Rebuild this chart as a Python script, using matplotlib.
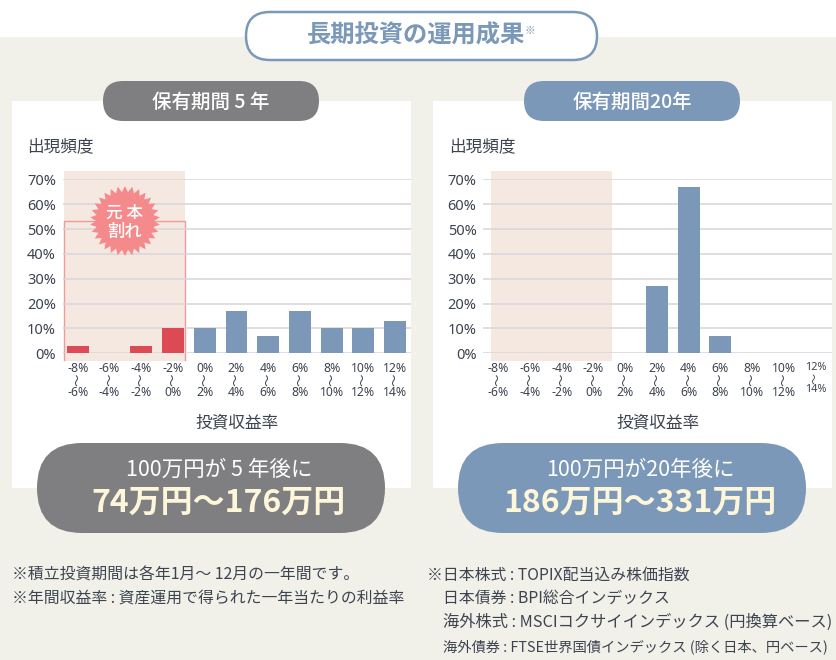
import numpy as np
import matplotlib
matplotlib.use("Agg")
import matplotlib.pyplot as plt
from matplotlib.patches import FancyBboxPatch, Rectangle, Polygon

W, H = 837, 660

# fonts: Latin first, then Japanese
plt.rcParams["font.family"] = ["Noto Sans", "Noto Sans CJK JP", "DejaVu Sans"]
JP = ["Noto Sans CJK JP", "DejaVu Sans"]

# data (%)
range_from = ["-8%", "-6%", "-4%", "-2%", "0%", "2%", "4%", "6%", "8%", "10%", "12%"]
range_to = ["-6%", "-4%", "-2%", "0%", "2%", "4%", "6%", "8%", "10%", "12%", "14%"]
freq_5y = [3, 0, 3, 10, 10, 17, 7, 17, 10, 10, 13]
freq_20y = [0, 0, 0, 0, 0, 27, 67, 7, 0, 0, 0]
y_ticks = [0, 10, 20, 30, 40, 50, 60, 70]
loss_bins = 4

BG = "#f1f1ea"
GREY = "#7f7f82"
BLUE = "#7b98b8"
RED = "#dc4a54"
SHADE = "#f4e8e1"
BURST = "#f48a8c"
GRID = "#d8d5da"
TEXT = "#3d4450"
CREAM = "#fdf6d8"


def pill(ax, x0, y0, x1, y1, color, edge="none", lw=0, zorder=3):
    """Rounded pill given in pixel coordinates."""
    r = (y1 - y0) / 2
    ax.add_patch(FancyBboxPatch((x0, y0), x1 - x0, y1 - y0,
                                boxstyle=f"round,pad=0,rounding_size={r}",
                                fc=color, ec=edge, lw=lw, zorder=zorder))


def draw_chart(fig, x0, values, colors, small_last=False):
    """Bar chart whose axes start at pixel x0."""
    ax = fig.add_axes([x0 / W, 1 - 353.3 / H, 348.5 / W, 174 / H])
    ax.patch.set_alpha(0)
    pos = np.arange(len(values))
    ax.bar(pos, values, width=0.69, color=colors, zorder=3)
    ax.set_xlim(-0.47, 10.52)
    ax.set_ylim(0, 70)
    ax.set_yticks(y_ticks)
    ax.set_yticklabels([f"{t}%" for t in y_ticks], fontsize=10.5, color=TEXT)
    ax.set_xticks(pos)
    ax.set_xticklabels(range_from, fontsize=8.8, color=TEXT)
    # range end and the wave between the two ends sit under each tick label
    for p in pos:
        small = small_last and p == pos[-1]
        ax.text(p, -10.0 if small else -10.5, "〜", rotation=90, fontsize=8 if small else 9,
                color=TEXT, family=JP, ha="center", va="center")
        ax.text(p, -14.6 if small else -15.6, range_to[p], fontsize=7.8 if small else 8.8,
                color=TEXT, ha="center", va="center")
    if small_last:
        ax.get_xticklabels()[-1].set_fontsize(7.8)
    ax.tick_params(length=0)
    ax.tick_params(axis="y", pad=5)
    ax.tick_params(axis="x", pad=6)
    ax.yaxis.grid(True, color=GRID, lw=1.1, zorder=1)
    ax.set_axisbelow(True)
    for s in ax.spines.values():
        s.set_visible(False)
    ax.set_xlabel("投資収益率", fontsize=12, color=TEXT, family=JP, labelpad=29)
    return ax


fig = plt.figure(figsize=(W / 100, H / 100), dpi=100, facecolor="white")
bg = fig.add_axes([0, 0, 1, 1])
bg.set_xlim(0, W)
bg.set_ylim(H, 0)
bg.axis("off")

bg.add_patch(Rectangle((0, 37), W, H - 37, fc=BG, ec="none", zorder=0))
bg.add_patch(Rectangle((12, 101), 399, 387, fc="white", ec="none", zorder=1))
bg.add_patch(Rectangle((433, 101), 399, 387, fc="white", ec="none", zorder=1))

# title
pill(bg, 246, 12, 597, 60, "white", edge=BLUE, lw=1.8)
bg.text(416, 36, "長期投資の運用成果", fontsize=17.5, color=BLUE, weight="bold",
        family=JP, ha="center", va="center", zorder=4)
bg.text(530, 31, "※", fontsize=7.5, color=BLUE, family=JP, ha="center", va="center", zorder=4)

# holding period pills
pill(bg, 103, 81, 319, 121, GREY)
pill(bg, 524, 81, 740, 121, BLUE)
bg.text(211, 102, "保有期間 5 年", fontsize=14, color="white", family=JP, weight="medium",
        ha="center", va="center", zorder=4)
bg.text(632, 102, "保有期間20年", fontsize=14, color="white", family=JP, weight="medium",
        ha="center", va="center", zorder=4)

# loss region shading
bg.add_patch(Rectangle((64.5, 171), 121, 190, fc=SHADE, ec="none", zorder=2))
bg.add_patch(Rectangle((491, 171), 121, 190, fc=SHADE, ec="none", zorder=2))
bg.plot([64.5, 64.5, 185.5, 185.5], [360, 221, 221, 360], color="#f09a9a", lw=1, zorder=2.5)

bg.text(27, 147, "出現頻度", fontsize=12, color=TEXT, family=JP, ha="left", va="center", zorder=4)
bg.text(449, 147, "出現頻度", fontsize=12, color=TEXT, family=JP, ha="left", va="center", zorder=4)

ax_5y = draw_chart(fig, 63, freq_5y, [RED] * loss_bins + [BLUE] * (len(freq_5y) - loss_bins))
ax_20y = draw_chart(fig, 483.5, freq_20y, BLUE, small_last=True)

# starburst badge sits on top of the left chart
top = fig.add_axes([0, 0, 1, 1])
top.set_xlim(0, W)
top.set_ylim(H, 0)
top.axis("off")
n_spikes = 30
ang = np.linspace(0, 2 * np.pi, n_spikes * 2, endpoint=False)
rad = np.where(np.arange(n_spikes * 2) % 2 == 0, 35, 29)
top.add_patch(Polygon(np.column_stack([125 + rad * np.sin(ang), 221 - rad * np.cos(ang)]),
                      fc=BURST, ec="none", zorder=5))
top.text(124.5, 213, "元 本", fontsize=12, color="white", weight="medium", family=JP,
         ha="center", va="center", zorder=6)
top.text(124.5, 232, "割れ", fontsize=12.5, color="white", weight="medium", family=JP,
         ha="center", va="center", zorder=6)

# result pills
pill(top, 37, 443, 385, 533, GREY)
pill(top, 458, 443, 806, 533, BLUE)
top.text(219, 470, "100万円が 5 年後に", fontsize=15.5, color="white", family=JP,
         ha="center", va="center", zorder=6)
top.text(640, 470, "100万円が20年後に", fontsize=15.5, color="white", family=JP,
         ha="center", va="center", zorder=6)
top.text(219, 503, "74万円〜176万円", fontsize=23, color=CREAM, weight="bold", family=JP,
         ha="center", va="center", zorder=6)
top.text(640, 503, "186万円〜331万円", fontsize=23, color=CREAM, weight="bold", family=JP,
         ha="center", va="center", zorder=6)

# footnotes
notes = [
    (12, 575, "※積立投資期間は各年1月～ 12月の一年間です。", 11.4),
    (12, 598, "※年間収益率 : 資産運用で得られた一年当たりの利益率", 11.4),
    (427, 575, "※日本株式 : TOPIX配当込み株価指数", 11.4),
    (443, 598, "日本債券 : BPI総合インデックス", 11.4),
    (443, 622, "海外株式 : MSCIコクサイインデックス (円換算ベース)", 11.7),
    (443, 647, "海外債券 : FTSE世界国債インデックス (除く日本、円ベース)", 10.3),
]
for x, y, s, size in notes:
    top.text(x, y, s, fontsize=size, color=TEXT, family=JP, ha="left", va="center", zorder=6)

fig.savefig("out.png", dpi=100)
